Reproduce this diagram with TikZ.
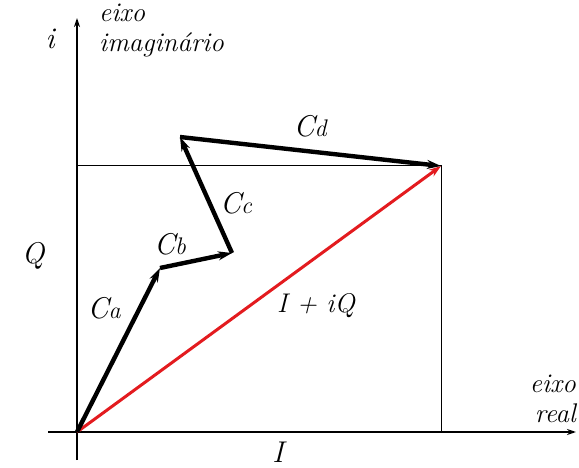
\documentclass[tikz,border=0pt]{standalone}
\usepackage{fix-cm}
\usepackage{xcolor}
\definecolor{sumred}{HTML}{E31B1F}
\usepackage{tikz}
\newcommand{\phz}[1]{{\fontsize{30}{32}\selectfont C}{\fontsize{24}{26}\selectfont #1}}
\usetikzlibrary{arrows.meta}

\begin{document}
\begin{tikzpicture}[
  x=1pt, y=1pt,
  axis/.style={-{Stealth[length=9pt,width=6pt]}, line width=1.8pt},
  guide/.style={line width=1pt},
  phasor/.style={-{Stealth[length=14pt,width=9pt]}, line width=4.4pt},
  sum/.style={-{Stealth[length=12pt,width=8pt]}, line width=3pt, color=sumred},
  lbl/.style={font=\fontsize{27}{30}\selectfont\itshape, inner sep=0pt}
]
  \useasboundingbox (0,0) rectangle (579,467);
  % axes
  \coordinate (o) at (77,35);
  \coordinate (ybot) at (77,7);
  \coordinate (ytop) at (77,449);
  \coordinate (xleft) at (48,35);
  \coordinate (xright) at (576,35);
  \draw[axis] (ybot) -- (ytop);
  \draw[axis] (xleft) -- (xright);
  % projections
  \coordinate (p) at (441,301);
  \coordinate (px) at (441,35);
  \coordinate (py) at (77,301);
  \draw[guide] (py) -- (p) -- (px);
  % phasor chain
  \coordinate (a) at (160,199);
  \coordinate (b) at (232,214);
  \coordinate (c) at (180,330);
  \draw[sum] (o) -- (p);
  \draw[phasor] (o) -- (a);
  \draw[phasor] (a) -- (b);
  \draw[phasor] (b) -- (c);
  \draw[phasor] (c) -- (p);
  % labels
  \node[lbl, font=\fontsize{30}{32}\selectfont\itshape] (li) at (50,428) {i};
  \node[lbl, align=left, anchor=north west] (lim) at (99,463) {eixo\\imagin\'ario};
  \node[lbl, align=right, anchor=south east] (lre) at (576,44) {eixo\\real};
  \node[lbl, font=\fontsize{30}{32}\selectfont\itshape] (lq) at (33,211) {Q};
  \node[lbl, font=\fontsize{30}{32}\selectfont\itshape] (lbi) at (278,15) {I};
  \node[lbl] (lca) at (104,159) {\phz{a}};
  \node[lbl] (lcb) at (170,223) {\phz{b}};
  \node[lbl] (lcc) at (236,264) {\phz{c}};
  \node[lbl] (lcd) at (310,341) {\phz{d}};
  \node[lbl] (lsum) at (316,161) {I + iQ};
\end{tikzpicture}
\end{document}
